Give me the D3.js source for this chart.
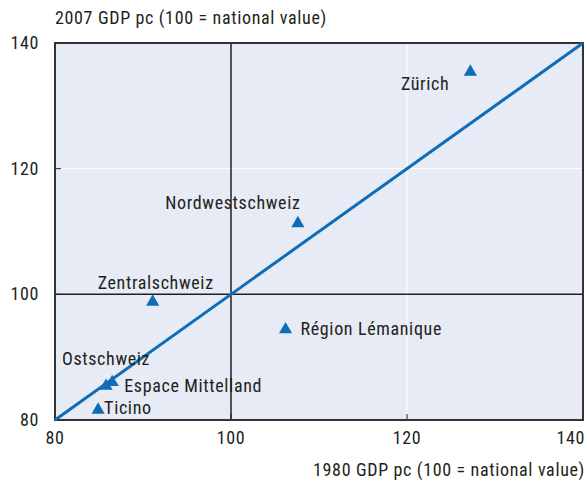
<!DOCTYPE html>
<html><head><meta charset="utf-8">
<script src="https://cdn.jsdelivr.net/npm/d3@7"></script>
<style>
body{margin:0;background:#fff;}
text{font-family:"Liberation Sans Narrow","Arial Narrow","Roboto Condensed",sans-serif;fill:#231f20;letter-spacing:0.65px;}
</style></head>
<body>
<svg id="c" width="587" height="485"></svg>
<script>
// ---- data ----
const regions = ["Zürich","Nordwestschweiz","Zentralschweiz","Région Lémanique","Ostschweiz","Espace Mittelland","Ticino"];
const gdp1980 = [127.2,107.6,91.1,106.2,85.8,86.5,84.9];
const gdp2007 = [135.4,111.3,98.8,94.4,85.4,86.0,81.6];
const xTicks = [80,100,120,140];
const yTicks = [80,100,120,140];
const xTitle = "1980 GDP pc (100 = national value)";
const yTitle = "2007 GDP pc (100 = national value)";

// ---- label placement (layout only) ----
const labelPos = {
  "Zürich":{dx:-21,dy:18,anchor:"end"},
  "Nordwestschweiz":{dx:-65,dy:-14,anchor:"middle"},
  "Zentralschweiz":{dx:3,dy:-13,anchor:"middle"},
  "Région Lémanique":{dx:15,dy:5,anchor:"start"},
  "Ostschweiz":{dx:0,dy:-21,anchor:"middle"},
  "Espace Mittelland":{dx:12,dy:10,anchor:"start"},
  "Ticino":{dx:6,dy:4,anchor:"start"}
};

const svg = d3.select("#c");
const L=55, R=583, T=43, B=420;
const x = d3.scaleLinear().domain([80,140]).range([L,R]);
const y = d3.scaleLinear().domain([80,140]).range([B,T]);

svg.append("rect").attr("x",L).attr("y",T).attr("width",R-L).attr("height",B-T).attr("fill","#e7ebf6");

// white gridlines at 120
svg.append("g").selectAll("line").data(xTicks.filter(d=>d!==80&&d!==140&&d!==100)).join("line")
  .attr("x1",d=>x(d)).attr("x2",d=>x(d)).attr("y1",T).attr("y2",B).attr("stroke","#fff").attr("stroke-width",1);
svg.append("g").selectAll("line").data(yTicks.filter(d=>d!==80&&d!==140&&d!==100)).join("line")
  .attr("y1",d=>y(d)).attr("y2",d=>y(d)).attr("x1",L).attr("x2",R).attr("stroke","#fff").attr("stroke-width",1);

// inward tick marks
svg.append("g").selectAll("line").data(xTicks).join("line")
  .attr("x1",d=>x(d)).attr("x2",d=>x(d)).attr("y1",B).attr("y2",B-6).attr("stroke","#231f20").attr("stroke-width",1);
svg.append("g").selectAll("line").data(yTicks).join("line")
  .attr("y1",d=>y(d)).attr("y2",d=>y(d)).attr("x1",L).attr("x2",L+6).attr("stroke","#231f20").attr("stroke-width",1);

// reference lines at 100
svg.append("line").attr("x1",x(100)).attr("x2",x(100)).attr("y1",T).attr("y2",B).attr("stroke","#231f20").attr("stroke-width",1.5);
svg.append("line").attr("y1",y(100)).attr("y2",y(100)).attr("x1",L).attr("x2",R).attr("stroke","#231f20").attr("stroke-width",1.5);

// frame
svg.append("rect").attr("x",L).attr("y",T).attr("width",R-L).attr("height",B-T).attr("fill","none").attr("stroke","#333").attr("stroke-width",2);

// 45 degree line
svg.append("line").attr("x1",x(80)).attr("y1",y(80)).attr("x2",x(140)).attr("y2",y(140))
  .attr("stroke","#0f6db5").attr("stroke-width",3);

// points
const pts = regions.map((r,i)=>({r,xv:gdp1980[i],yv:gdp2007[i]}));
const tri = d3.symbol().type(d3.symbolTriangle).size(75);
svg.append("g").selectAll("path").data(pts).join("path")
  .attr("d",tri).attr("transform",d=>`translate(${x(d.xv)},${y(d.yv)})`).attr("fill","#0f6db5");

svg.append("g").selectAll("text").data(pts).join("text")
  .attr("x",d=>x(d.xv)+labelPos[d.r].dx).attr("y",d=>y(d.yv)+labelPos[d.r].dy)
  .attr("text-anchor",d=>labelPos[d.r].anchor).attr("font-size",18).text(d=>d.r);

// tick labels
svg.append("g").selectAll("text").data(xTicks).join("text")
  .attr("x",(d,i)=>i===xTicks.length-1?R+2:x(d)).attr("y",444)
  .attr("text-anchor",(d,i)=>i===xTicks.length-1?"end":"middle").attr("font-size",18).text(d=>d);
svg.append("g").selectAll("text").data(yTicks).join("text")
  .attr("x",39).attr("y",d=>y(d)+6).attr("text-anchor","end").attr("font-size",18).text(d=>d);

svg.append("text").attr("x",R+2).attr("y",476).attr("text-anchor","end").attr("font-size",18).text(xTitle);
svg.append("text").attr("x",55).attr("y",24).attr("text-anchor","start").attr("font-size",18).text(yTitle);
</script>
</body></html>
